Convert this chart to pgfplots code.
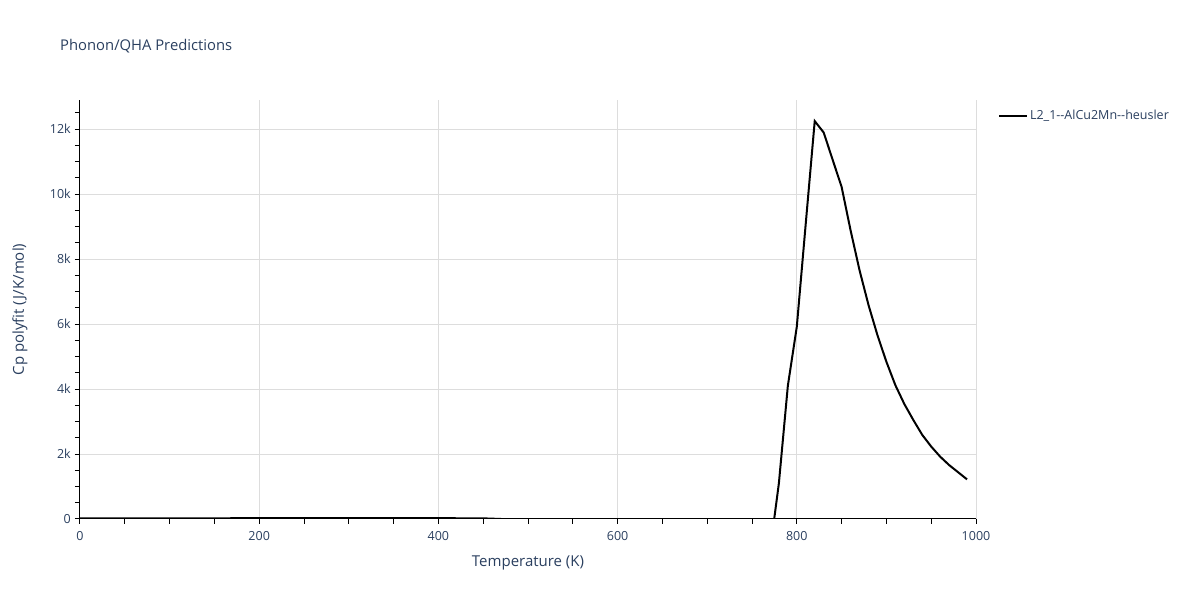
\documentclass[border=0pt]{standalone}
\usepackage{fontspec}
\setmainfont{Open Sans}
\usepackage{pgfplots}
\pgfplotsset{compat=1.18}
\definecolor{txt}{HTML}{2A3F5F}
\definecolor{grd}{HTML}{DDDDDD}
\begin{document}
\begin{tikzpicture}
\path[use as bounding box] (0pt,0pt) rectangle (1200pt,600pt);
\node[anchor=west, text=txt, font=\fontsize{14.8}{17}\selectfont, inner sep=0pt] at (60pt,554pt) {Phonon/QHA Predictions};
\begin{axis}[
  at={(80pt,81pt)}, anchor=south west, scale only axis,
  width=896pt, height=419pt,
  xmin=0, xmax=1000, ymin=0, ymax=12900,
  xtick={0,200,...,1000}, minor xtick={50,100,...,950},
  ytick={0,2000,...,12000}, yticklabels={0,2k,4k,6k,8k,10k,12k},
  minor ytick={500,1000,...,12500},
  xmajorgrids, ymajorgrids,
  major grid style={grd, line width=1pt},
  axis x line*=bottom, axis y line*=left,
  axis line style={-, black, line width=1pt},
  tick style={black, line width=1pt},
  tick align=outside, major tick length=5pt, minor tick length=5pt,
  /pgf/number format/assume math mode=true,
  /pgf/number format/1000 sep={},
  tick label style={font=\fontsize{12.5}{14}\selectfont, text=txt},
  xticklabel style={anchor=center, yshift=-12pt},
  yticklabel style={anchor=east, inner sep=0pt, xshift=-4pt},
  scaled ticks=false,
  xlabel={Temperature (K)}, ylabel={Cp polyfit (J/K/mol)},
  label style={font=\fontsize{15}{17}\selectfont, text=txt},
  xlabel style={at={(axis description cs:0.5,-0.105)}, anchor=center},
  ylabel style={at={(axis description cs:-0.067,0.5)}, anchor=center},
  legend style={at={(axis description cs:1.021,0.985)}, anchor=north west, draw=none, fill=none,
    font=\fontsize{12.5}{14}\selectfont, text=txt},
  legend cell align=left,
  legend image code/.code={\draw[#1] (0pt,0pt) -- (28pt,0pt);},
]
\addplot[black, line width=2pt] coordinates {
(0,20) (50,20) (100,22) (150,22) (200,25) (250,25) (300,25) (350,25) (400,25) (450,20) (470,0) (480,-200) (500,-1000) (600,-3000) (700,-3000) (770,-1000)
(780,1100) (790,4100) (800,5920) (810,9100) (820,12250) (830,11900) (840,11060) (850,10225)
(860,8890) (870,7660) (880,6590) (890,5660) (900,4840) (910,4120) (920,3540) (930,3050)
(940,2590) (950,2230) (960,1920) (970,1660) (980,1440) (990,1220)
};
\addlegendentry{L2\_1{-}{-}AlCu2Mn{-}{-}heusler}
\end{axis}
\end{tikzpicture}
\end{document}
